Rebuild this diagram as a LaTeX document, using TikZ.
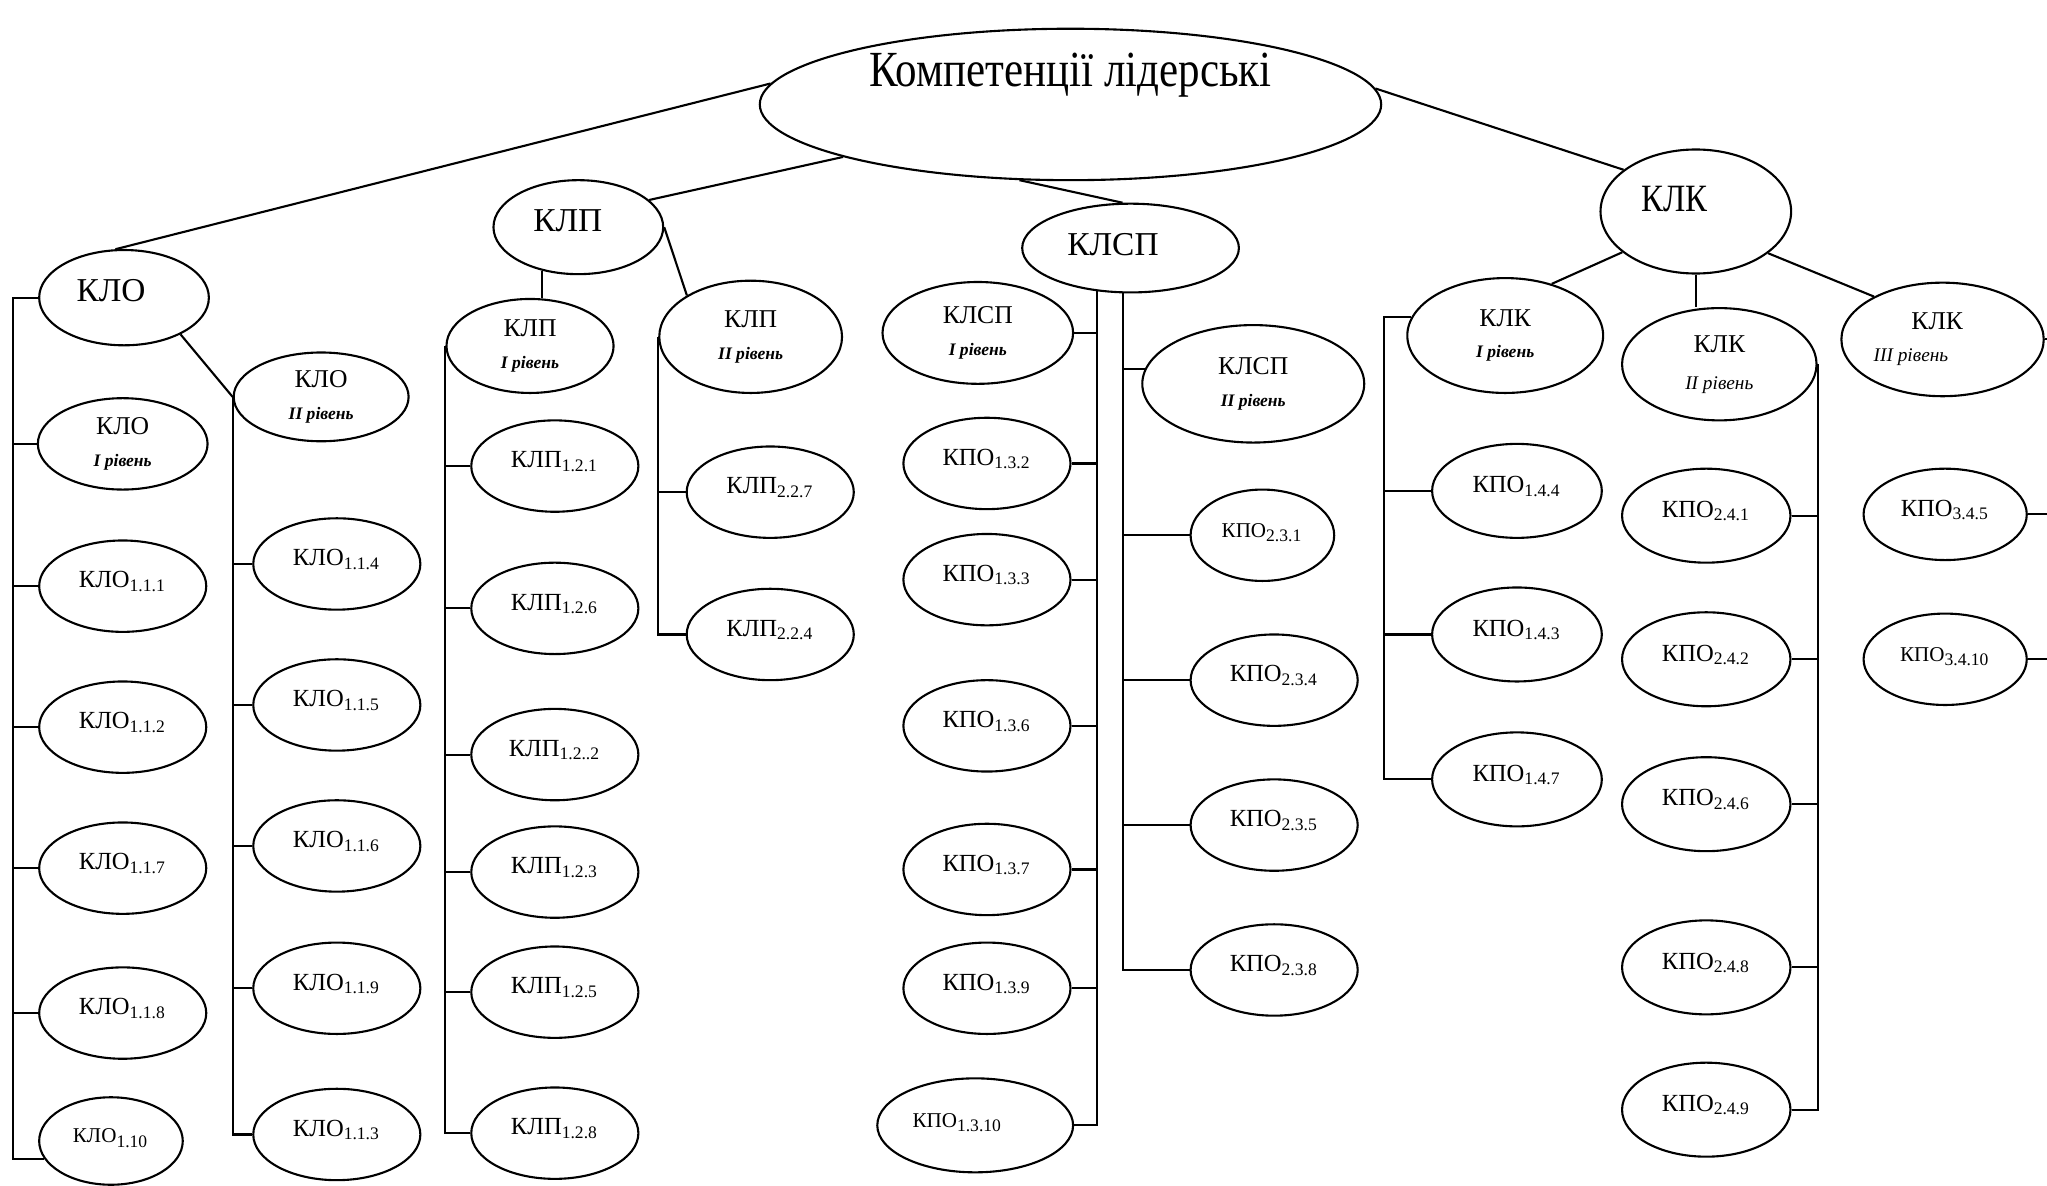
\documentclass[tikz,border=0pt]{standalone}
\usepackage{fontspec}
\setmainfont{Liberation Serif}
\newfontfamily\narrowfont{Liberation Serif}[FakeStretch=0.85]
\usetikzlibrary{shapes.geometric}
\newcommand{\lev}[1]{{\fontsize{5}{6}\selectfont\bfseries\itshape #1}}
\newcommand{\levn}[1]{{\fontsize{5.5}{6}\selectfont\itshape #1}}

\begin{document}
\begin{tikzpicture}[x=0.013055cm,y=-0.013055cm,line width=0.6pt]
	\def\px{0.013055cm}
	\tikzset{comp/.style={ellipse,draw,inner sep=0pt},
		top/.style={comp,font=\fontsize{9.5}{11}\selectfont,text height=7pt,text depth=4.6pt},
		mid/.style={comp,align=center,font=\fontsize{7.3}{9}\selectfont},
		leaf/.style={comp,minimum width=128*\px,minimum height=70*\px,
			font=\fontsize{7}{8}\selectfont,text height=5pt,text depth=4pt},
		small/.style={font=\fontsize{6}{7}\selectfont}}
	\useasboundingbox (0,0) rectangle (1568,908);
	\coordinate (bus1) at (10,0);
	\coordinate (bus7) at (1060,0);
	\coordinate (edge) at (1568,0);
	% root
	\node[comp,minimum width=476*\px,minimum height=116*\px,
		font=\narrowfont\fontsize{14.4}{16}\selectfont,text height=10pt,text depth=20pt]
		(title) at (820,80) {Компетенції лідерські};
	% KLO branch
	\node[top,minimum width=130*\px,minimum height=73*\px] (KLO) at (95,228) {КЛО\hspace*{7.4pt}};
	\draw (title.176) -- (KLO.100);
	\node[mid,minimum width=130*\px,minimum height=70*\px] (KLOI) at (94,340) {КЛО\\\lev{I рівень}};
	\foreach \n/\s/\y in {111/1.1.1/449,112/1.1.2/557,117/1.1.7/665,118/1.1.8/776}
		\node[leaf] (KLO\n) at (94,\y) {КЛО\textsubscript{\s}};
	\node[leaf,small,minimum width=110*\px,minimum height=67*\px] (KLO110) at (85,874) {КЛО\textsubscript{1.10}};
	\draw (KLO.west) -| (bus1 |- KLO110.195) -- (KLO110.195);
	\foreach \n in {KLOI,KLO111,KLO112,KLO117,KLO118}
		\draw (\n.west) -- (\n.west -| bus1);
	\node[mid,minimum width=134*\px,minimum height=68*\px] (KLOII) at (246,304) {КЛО\\\lev{II рівень}};
	\draw (KLO.-33) -- (KLOII.west);
	\foreach \n/\s/\y in {114/1.1.4/432,115/1.1.5/540,116/1.1.6/648,119/1.1.9/757,113/1.1.3/869}
		\node[leaf] (KLO\n) at (258,\y) {КЛО\textsubscript{\s}};
	\draw (KLOII.west) |- (KLO113.west);
	\foreach \n in {KLO114,KLO115,KLO116,KLO119}
		\draw (\n.west) -- (\n.west -| KLOII.west);
	% KLP branch
	\node[top,minimum width=130*\px,minimum height=72*\px] (KLP) at (443,174) {КЛП\hspace*{6pt}};
	\draw (title.193) -- (KLP.21);
	\node[mid,minimum width=128*\px,minimum height=72*\px] (KLPI) at (406,265) {КЛП\\\lev{I рівень}};
	\draw (KLP.230) -- (KLP.230 |- KLPI.north);
	\foreach \n/\s/\y in {121/1.2.1/357,126/1.2.6/466,122/1.2..2/578,123/1.2.3/668,125/1.2.5/760,128/1.2.8/868}
		\node[leaf] (KLP\n) at (425,\y) {КЛП\textsubscript{\s}};
	\draw (KLPI.west) |- (KLP128.west);
	\foreach \n in {KLP121,KLP126,KLP122,KLP123,KLP125}
		\draw (\n.west) -- (\n.west -| KLPI.west);
	\node[mid,minimum width=140*\px,minimum height=86*\px] (KLPII) at (575,258) {КЛП\\\lev{II рівень}};
	\draw (KLP.east) -- (KLPII.147);
	\foreach \n/\s/\y in {227/2.2.7/377,224/2.2.4/486}
		\node[leaf] (KLP\n) at (590,\y) {КЛП\textsubscript{\s}};
	\draw (KLPII.west) |- (KLP224.west);
	\draw (KLP227.west) -- (KLP227.west -| KLPII.west);
	% KLSP branch
	\node[top,text depth=3pt,minimum width=166*\px,minimum height=68*\px] (KLSP) at (866,190) {КЛСП\hspace*{10pt}};
	\draw (title.236) -- (KLSP.100);
	\node[mid,minimum width=146*\px,minimum height=78*\px] (KLSPI) at (749,255) {КЛСП\\\lev{I рівень}};
	\foreach \n/\s/\y in {132/1.3.2/355,133/1.3.3/444,136/1.3.6/556,137/1.3.7/666,139/1.3.9/757}
		\node[leaf] (KPO\n) at (756,\y) {КПО\textsubscript{\s}};
	\node[leaf,small,minimum width=150*\px,minimum height=72*\px] (KPO1310) at (747,862) {КПО\textsubscript{1.3.10}\hspace*{10pt}};
	\draw (KLSP.232) |- (KPO1310.east);
	\foreach \n in {KLSPI,KPO132,KPO133,KPO136,KPO137,KPO139}
		\draw (\n.east) -- (\n.east -| KLSP.232);
	\node[mid,minimum width=170*\px,minimum height=90*\px] (KLSPII) at (960,294) {КЛСП\\\lev{II рівень}};
	\node[leaf,small,minimum width=110*\px] (KPO231) at (967,410) {КПО\textsubscript{2.3.1}};
	\foreach \n/\s/\y in {234/2.3.4/521,235/2.3.5/632,238/2.3.8/743}
		\node[leaf] (KPO\n) at (976,\y) {КПО\textsubscript{\s}};
	\draw (KLSP.260) |- (KPO238.west);
	\draw (KLSPII.172) -- (KLSPII.172 -| KLSP.260);
	\foreach \n in {KPO231,KPO234,KPO235}
		\draw (\n.west) -- (\n.west -| KLSP.260);
	% KLK branch
	\node[top,font=\narrowfont\fontsize{11}{13}\selectfont,text depth=7pt,
		minimum width=146*\px,minimum height=95*\px] (KLK) at (1299,162) {КЛК\hspace*{12pt}};
	\draw (title.3) -- (KLK.150);
	\node[mid,minimum width=150*\px,minimum height=88*\px] (KLKI) at (1153,257) {КЛК\\\lev{I рівень}};
	\draw (KLK.209) -- (KLKI.48);
	\foreach \n/\s/\y in {144/1.4.4/376,143/1.4.3/486,147/1.4.7/597}
		\node[leaf,minimum width=130*\px,minimum height=72*\px] (KPO\n) at (1162,\y) {КПО\textsubscript{\s}};
	\draw (KLKI.169) -- (KLKI.169 -| bus7) |- (KPO147.west);
	\foreach \n in {KPO144,KPO143}
		\draw (\n.west) -- (\n.west -| bus7);
	\node[mid,minimum width=149*\px,minimum height=86*\px] (KLKII) at (1317,279) {КЛК\\[1.5pt]\levn{II рівень}};
	\draw (KLK.south) -- (KLK.south |- KLKII.north);
	\foreach \n/\s/\y in {241/2.4.1/395,242/2.4.2/505,246/2.4.6/616,248/2.4.8/741,249/2.4.9/850}
		\node[leaf,minimum width=129*\px,minimum height=72*\px] (KPO\n) at (1307,\y) {КПО\textsubscript{\s}};
	\draw (KLKII.east) |- (KPO249.east);
	\foreach \n in {KPO241,KPO242,KPO246,KPO248}
		\draw (\n.east) -- (\n.east -| KLKII.east);
	\node[mid,minimum width=155*\px,minimum height=87*\px] (KLKIII) at (1488,260)
		{КЛК\hbox to 3pt{}\\\levn{III рівень}\hbox to 18pt{}};
	\draw (KLK.330) -- (KLKIII.148);
	\node[leaf,minimum width=125*\px] (KPO345) at (1490,394) {КПО\textsubscript{3.4.5}};
	\node[leaf,small,minimum width=125*\px] (KPO3410) at (1490,505) {КПО\textsubscript{3.4.10}};
	\foreach \n in {KLKIII,KPO345,KPO3410}
		\draw (\n.east) -- (\n.east -| edge);
\end{tikzpicture}
\end{document}
